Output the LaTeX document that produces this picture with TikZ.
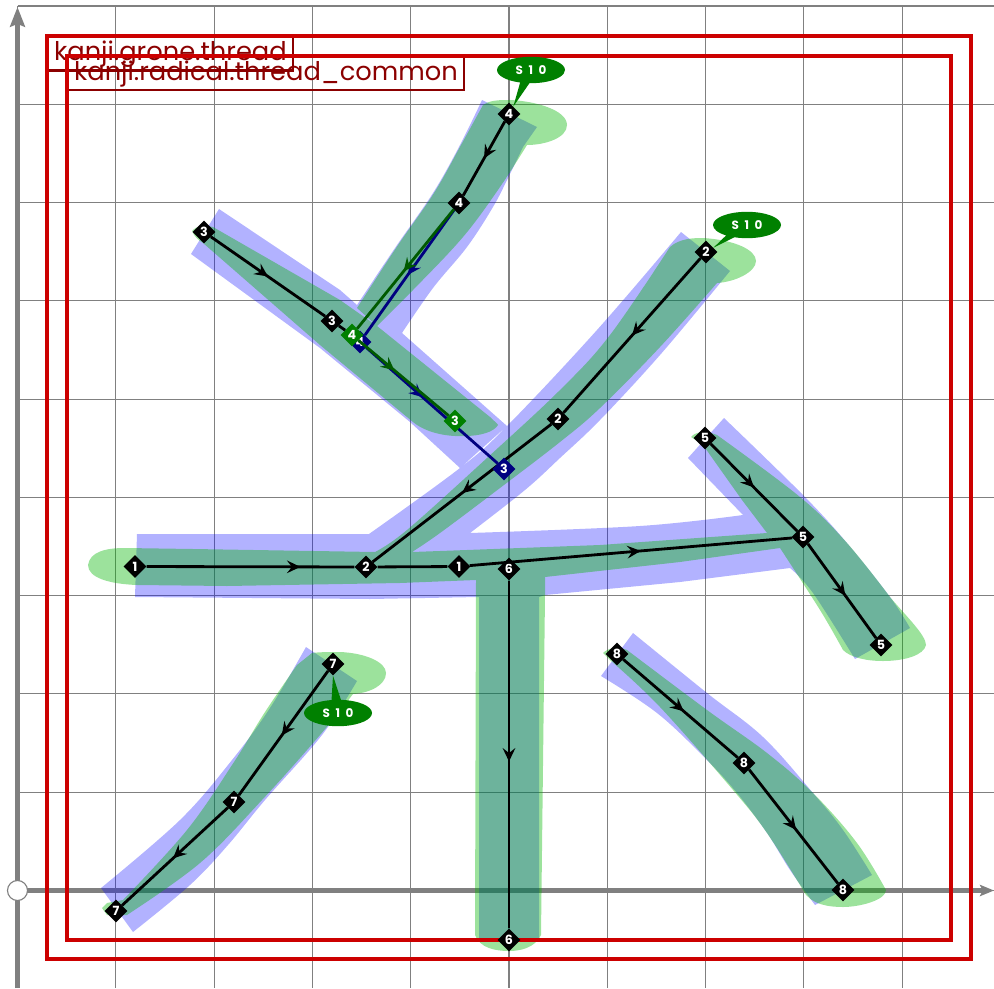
\documentclass[tikz,border=0pt]{standalone}
\usepackage{fontspec}
\newfontfamily\boxfont{Poppins}
\newfontfamily\tagfont[WordSpace=2.2]{Poppins}
\usetikzlibrary{
    arrows.meta,
    shapes.geometric,
    shapes.callouts,
    decorations.markings
}
\definecolor{gridgray}{RGB}{128,128,128}
\definecolor{framered}{RGB}{204,0,0}
\definecolor{boxred}{RGB}{139,0,0}
\definecolor{radicalblue}{RGB}{0,0,255}
\definecolor{groneGreen}{RGB}{0,180,0}
\definecolor{pointgreen}{RGB}{0,128,0}
\definecolor{pointnavy}{RGB}{0,0,128}
\definecolor{linegreen}{RGB}{0,90,0}
\tikzset{
    frame/.style={draw=framered,line width=2.3pt},
    namebox/.style={draw=boxred,line width=1.6pt,text=boxred,anchor=north west,
        inner xsep=1.5mm,inner ysep=0.85mm,font=\boxfont\fontsize{18.3}{18.3}\selectfont},
    ctrl/.style={diamond,fill=#1,text=white,inner sep=0pt,minimum size=5.7mm,
        font=\boxfont\bfseries\fontsize{9}{9}\selectfont},
    ctrl/.default=black,
    midarrow/.style 2 args={line width=2pt,draw=#2,
        decoration={markings,mark=at position #1 with {\arrow{Stealth[length=9.5pt,width=9pt,inset=3.5pt]}}},
        postaction={decorate}},
    tag/.style={ellipse callout,fill=pointgreen,text=white,inner sep=0pt,
        minimum width=17mm,minimum height=6.6mm,callout pointer arc=16,
        font=\tagfont\bfseries\fontsize{8.5}{8.5}\selectfont},
    edge/.style={smooth,tension=0.6}
}
\begin{document}
\begin{tikzpicture}[x=0.25mm,y=-0.25mm]
\useasboundingbox (0,0) rectangle (994,988);

% Grid
\foreach \gx in {0,...,9}
    \draw[gridgray,line width=0.8pt] ({17.5+98.3*\gx},6) -- ({17.5+98.3*\gx},988);
\foreach \gy in {0,...,9}
    \draw[gridgray,line width=0.8pt] (17.5,{6+98.27*\gy}) -- (994,{6+98.27*\gy});

% Axes
\coordinate (origin) at (17.5,890.5);
\coordinate (ybottom) at (17.5,988);
\coordinate (ytop) at (17.5,7);
\coordinate (xright) at (994,890.5);
\draw[gridgray,line width=3.2pt,-{Stealth[length=14pt,width=10.5pt,inset=2pt]}] (ybottom) -- (ytop);
\draw[gridgray,line width=3.2pt,-{Stealth[length=10pt,width=8pt,inset=2pt]}] (origin) -- (xright);
\node[circle,draw=gridgray,fill=white,line width=0.8pt,minimum size=5mm,inner sep=0pt] (zero) at (origin) {};

% Radical, one path
\fill[radicalblue,opacity=0.3]
    % stroke 1 and 2
    (135,597) -- (137,534) -- (369,534) -- plot[edge] coordinates {(369,534) (460,468) (507,426) (597,330) (681,232)}
    -- (730,271) -- (721,282) -- plot[edge] coordinates {(721,282) (660,355) (600,420) (560,458) (525,490) (470,533)}
    -- plot[edge] coordinates {(470,533) (640,526) (743,515)} -- (790,568) -- (680,582) -- (545,595) -- (539,597)
    -- (539,938) -- (479,938) -- (479,597) -- (370,599) -- cycle
    % stroke 3
    (219,209) -- (340,290) -- (357,305) -- (402,333) -- (507,426) -- (460,468) -- (410,422) -- (320,348) -- (191,254) -- cycle
    % stroke 4
    (482,100) -- (537,127) -- plot[edge] coordinates {(523,147) (508,178) (493,207) (467,247) (433,288) (402,333)}
    -- (357,305) -- plot[edge] coordinates {(357,305) (395,248) (433,193) (460,145) (482,100)} -- cycle
    % stroke 5
    (724,418) -- plot[edge] coordinates {(724,418) (803,495) (847,543) (890,597) (910,628)} -- (855,659)
    -- plot[edge] coordinates {(855,659) (813,593) (790,568)} -- (743,515) -- (688,458) -- cycle
    % stroke 7
    (306,647) -- (357,681) -- plot[edge] coordinates {(357,681) (322,735) (265,800) (228,845) (190,885) (133,932)}
    -- (101,888) -- plot[edge] coordinates {(101,888) (180,820) (232,760) (270,708) (306,647)} -- cycle
    % stroke 8
    (633,633) -- plot[edge] coordinates {(633,633) (707,693) (763,737) (813,793) (843,830) (872,875)} -- (815,905)
    -- plot[edge] coordinates {(815,905) (790,870) (767,833) (737,793) (705,758) (657,713) (601,676)} -- cycle;

% Grone, one path
\fill[groneGreen,opacity=0.39]
    % stroke 1 and 2
    (88,565) .. controls (90,552) and (105,548) .. (125,548) -- (193,549) -- (375,552)
    -- plot[edge] coordinates {(375,552) (407,530) (487,458) (560,390) (610,335) (670,247)}
    .. controls (680,238) and (695,238) .. (703,238) .. controls (735,240) and (756,250) .. (756,261)
    .. controls (756,272) and (735,282) .. (717,283)
    -- plot[edge] coordinates {(717,283) (660,347) (600,408) (560,442) (500,488) (440,533) (412,552)}
    -- (440,551) -- (600,545) -- (767,533) -- (780,548) -- (680,562) -- (545,577) -- (545,595) -- (541,935)
    .. controls (535,948) and (520,951) .. (509,951) .. controls (495,951) and (480,948) .. (475,935)
    -- (476,580) -- (400,583) -- (227,586) -- (137,585) .. controls (110,584) and (88,578) .. (88,565) -- cycle
    % stroke 3
    (192,231) .. controls (195,226) and (205,225) .. (213,227) -- (340,300) -- (377,326) -- (490,417) .. controls (495,422) and (498,424) .. (498,425)
    .. controls (494,432) and (480,436) .. (465,436) .. controls (445,437) and (425,432) .. (413,422) -- (320,345) -- (203,243) .. controls (198,240) and (194,236) .. (192,231) -- cycle
    % stroke 4
    (483,105) .. controls (490,100) and (500,100) .. (510,100) .. controls (535,101) and (567,110) .. (567,125) .. controls (567,138) and (545,145) .. (527,145)
    -- plot[edge] coordinates {(527,145) (500,187) (463,237) (413,290) (377,326)} -- (357,308)
    -- plot[edge] coordinates {(357,308) (396,248) (434,193) (461,145) (483,105)} -- cycle
    % stroke 5
    (691,437) .. controls (695,432) and (705,430) .. (717,435) -- plot[edge] coordinates {(717,435) (800,497) (847,543) (890,597)}
    .. controls (905,615) and (926,635) .. (926,645)
    .. controls (924,655) and (905,661) .. (883,661) .. controls (865,661) and (850,657) .. (843,650)
    -- plot[edge] coordinates {(843,650) (820,610) (780,548)} -- (767,533) -- (742,500) -- (703,445) -- cycle
    % stroke 7
    (312,653) .. controls (320,652) and (330,652) .. (340,652) .. controls (365,653) and (386,662) .. (386,673) .. controls (386,685) and (370,693) .. (353,694)
    -- plot[edge] coordinates {(353,694) (320,735) (262,800) (200,863) (127,915)} -- (107,915) -- (102,908) -- (107,903)
    -- plot[edge] coordinates {(123,900) (187,830) (234,762) (265,712) (297,665)} -- cycle
    % stroke 8
    (603,653) .. controls (608,648) and (618,646) .. (627,650) -- plot[edge] coordinates {(627,650) (707,710) (767,753) (813,793) (857,843) (886,890)}
    .. controls (886,900) and (860,907) .. (843,907) .. controls (830,907) and (810,905) .. (803,890)
    -- plot[edge] coordinates {(803,890) (767,833) (733,790) (660,707) (610,660)} -- cycle;

% Frames
\node[namebox] (grone) at (47,36) {kanji.grone.thread};
\draw[frame] (47,36) rectangle (971,959);
\node[namebox] (radical) at (67,56) {kanji.radical.thread\_common};
\draw[frame] (67,56) rectangle (951,940);

% Control points
\node[ctrl] (o1a) at (135,566.5) {1};
\node[ctrl] (o1b) at (459,566.5) {1};
\node[ctrl] (o2a) at (706,252) {2};
\node[ctrl] (o2b) at (558,419) {2};
\node[ctrl] (o2c) at (366,567) {2};
\node[ctrl] (o3a) at (204,232) {3};
\node[ctrl] (o3b) at (332,321) {3};
\node[ctrl] (o4a) at (509,114) {4};
\node[ctrl] (o4b) at (459,203) {4};
\node[ctrl] (o5a) at (705,438) {5};
\node[ctrl] (o5b) at (803,537) {5};
\node[ctrl] (o5c) at (881,645) {5};
\node[ctrl] (o6a) at (509,569) {6};
\node[ctrl] (o6b) at (509,940) {6};
\node[ctrl] (o7a) at (333,664) {7};
\node[ctrl] (o7b) at (234,802) {7};
\node[ctrl] (o7c) at (116,911) {7};
\node[ctrl] (o8a) at (617,654) {8};
\node[ctrl] (o8b) at (744,763) {8};
\node[ctrl] (o8c) at (843,890) {8};

% Threads
\draw[midarrow={.74}{black}] (o1a) -- (o2c);
\draw[line width=2pt] (o2c) -- (o1b);
\draw[midarrow={.53}{black}] (o1b) -- (o5b);
\draw[midarrow={.5}{black}] (o2a) -- (o2b);
\draw[midarrow={.5}{black}] (o2b) -- (o2c);
\draw[midarrow={.5}{black}] (o3a) -- (o3b);
\draw[midarrow={.5}{black}] (o4a) -- (o4b);
\draw[midarrow={.5}{black}] (o5a) -- (o5b);
\draw[midarrow={.55}{black}] (o5b) -- (o5c);
\draw[midarrow={.52}{black}] (o6a) -- (o6b);
\draw[midarrow={.52}{black}] (o7a) -- (o7b);
\draw[midarrow={.52}{black}] (o7b) -- (o7c);
\draw[midarrow={.53}{black}] (o8a) -- (o8b);
\draw[midarrow={.53}{black}] (o8b) -- (o8c);

% Navy and green threads
\node[ctrl=pointnavy] (n4) at (360,342) {4};
\node[ctrl=pointnavy] (n3) at (504,469) {3};
\draw[midarrow={.52}{pointnavy}] (o4b) -- (n4);
\draw[midarrow={.43}{pointnavy}] (n4) -- (n3);
\node[ctrl=pointgreen] (g4) at (352,335) {4};
\node[ctrl=pointgreen] (g3) at (455,421) {3};
\draw[midarrow={.52}{linegreen}] (o4b) -- (g4);
\draw[midarrow={.4}{linegreen}] (g4) -- (g3);
\draw[line width=2pt] (o3b) -- (g4);

% Tags
\node[tag,callout absolute pointer={(o4a.60)}] (s4) at (531,70) {S 1 0};
\node[tag,callout absolute pointer={(o2a.30)}] (s2) at (747,225) {S 1 0};
\node[tag,callout absolute pointer={(o7a.south)}] (s7) at (338,713) {S 1 0};

\end{tikzpicture}
\end{document}
